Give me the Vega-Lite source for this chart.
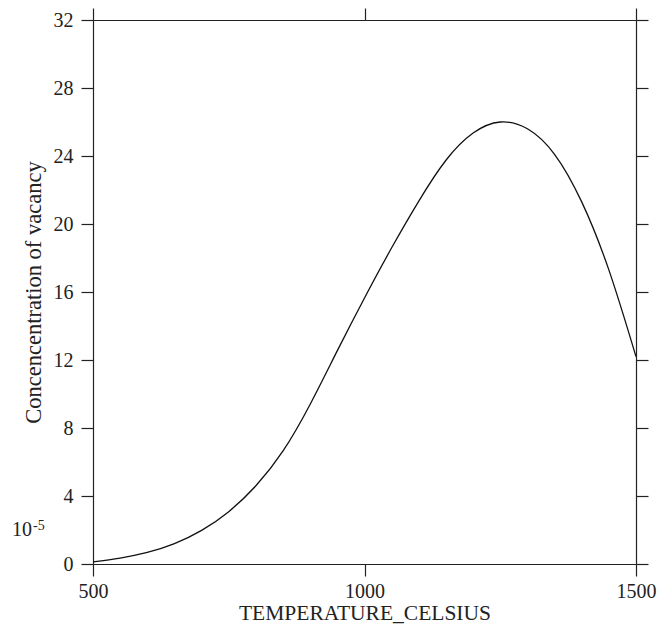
{
  "$schema": "https://vega.github.io/schema/vega-lite/v6.json",
  "width": 543,
  "height": 544,
  "autosize": {"type": "none"},
  "padding": {"left": 93, "top": 20, "right": 36, "bottom": 72},
  "background": "white",
  "view": {"stroke": null},
  "config": {
    "axis": {
      "grid": false,
      "labelFlush": false,
      "labelOverlap": false,
      "domainColor": "#222222",
      "domainWidth": 1.2,
      "tickColor": "#222222",
      "tickWidth": 1.2,
      "tickSize": 12,
      "labelFont": "Liberation Serif",
      "labelFontSize": 20,
      "labelColor": "#222222",
      "titleFont": "Liberation Serif",
      "titleFontSize": 21.5,
      "titleFontWeight": "normal",
      "titleColor": "#222222"
    }
  },
  "data": {
    "values": [
      {"T": 500, "C": 0.12},
      {"T": 550, "C": 0.35},
      {"T": 600, "C": 0.68},
      {"T": 650, "C": 1.2},
      {"T": 700, "C": 1.98},
      {"T": 750, "C": 3.08},
      {"T": 800, "C": 4.6},
      {"T": 850, "C": 6.65},
      {"T": 900, "C": 9.4},
      {"T": 950, "C": 12.55},
      {"T": 1000, "C": 15.65},
      {"T": 1050, "C": 18.6},
      {"T": 1100, "C": 21.35},
      {"T": 1150, "C": 23.75},
      {"T": 1200, "C": 25.35},
      {"T": 1250, "C": 26.0},
      {"T": 1300, "C": 25.6},
      {"T": 1350, "C": 24.1},
      {"T": 1400, "C": 21.3},
      {"T": 1450, "C": 17.3},
      {"T": 1500, "C": 12.2}
    ]
  },
  "resolve": {"axis": {"x": "independent", "y": "independent"}},
  "layer": [
    {
      "mark": {"type": "line", "color": "#111111", "strokeWidth": 1.3, "interpolate": "natural"},
      "encoding": {
        "x": {
          "field": "T", "type": "quantitative",
          "scale": {"domain": [500, 1500], "nice": false, "zero": false},
          "axis": {"orient": "bottom", "values": [500, 1000, 1500], "format": "d", "title": "TEMPERATURE_CELSIUS", "labelPadding": 5, "titlePadding": 1}
        },
        "y": {
          "field": "C", "type": "quantitative",
          "scale": {"domain": [0, 32], "nice": false},
          "axis": {"orient": "left", "values": [0, 4, 8, 12, 16, 20, 24, 28, 32], "title": "Concencentration of vacancy", "titleFontSize": 22.5, "labelPadding": 8, "titlePadding": 8}
        }
      }
    },
    {
      "mark": {"type": "line", "opacity": 0},
      "encoding": {
        "x": {
          "field": "T", "type": "quantitative",
          "scale": {"domain": [500, 1500], "nice": false, "zero": false},
          "axis": {"orient": "top", "values": [500, 1000, 1500], "labels": false, "title": null}
        },
        "y": {
          "field": "C", "type": "quantitative",
          "scale": {"domain": [0, 32], "nice": false},
          "axis": {"orient": "right", "values": [0, 4, 8, 12, 16, 20, 24, 28, 32], "labels": false, "title": null}
        }
      }
    },
    {
      "data": {"values": [{"label": "10"}]},
      "mark": {"type": "text", "align": "right", "baseline": "middle", "dx": -61, "font": "Liberation Serif", "fontSize": 20, "color": "#222222"},
      "encoding": {
        "x": {"datum": 500, "type": "quantitative", "axis": null},
        "y": {"datum": 2, "type": "quantitative", "axis": null},
        "text": {"field": "label"}
      }
    },
    {
      "data": {"values": [{"label": "-5"}]},
      "mark": {"type": "text", "align": "left", "baseline": "middle", "dx": -60, "dy": -4, "font": "Liberation Serif", "fontSize": 14, "color": "#222222"},
      "encoding": {
        "x": {"datum": 500, "type": "quantitative", "axis": null},
        "y": {"datum": 2, "type": "quantitative", "axis": null},
        "text": {"field": "label"}
      }
    }
  ]
}
